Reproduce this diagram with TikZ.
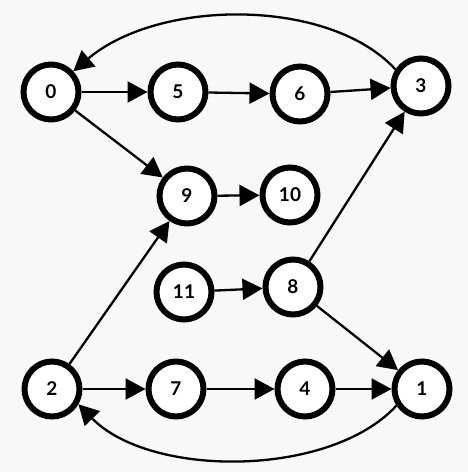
\documentclass[tikz,border=0pt]{standalone}
\usepackage{fontspec}
\setmainfont{Lato}
\usetikzlibrary{arrows.meta}
\definecolor{bg}{RGB}{248,248,248}
\begin{document}
\begin{tikzpicture}[x=1pt,y=-1pt,
  vert/.style={circle,draw=black,fill=white,line width=6pt,minimum size=55pt,inner sep=0pt,
    font=\fontsize{19}{19}\selectfont\bfseries},
  edge/.style={line width=2.3pt,-{Triangle[length=20pt,width=21pt]}}]
\fill[bg] (0,0) rectangle (468,472);
\useasboundingbox (0,0) rectangle (468,472);
\node[vert] (n0) at (51,92) {0};
\node[vert] (n5) at (178,92) {5};
\node[vert] (n6) at (300,94) {6};
\node[vert] (n3) at (421,86) {3};
\node[vert] (n9) at (187,196) {9};
\node[vert] (n10) at (290,195) {10};
\node[vert] (n11) at (184,292) {11};
\node[vert] (n8) at (293,287) {8};
\node[vert] (n2) at (52,389) {2};
\node[vert] (n7) at (176,389) {7};
\node[vert] (n4) at (305,389) {4};
\node[vert] (n1) at (422,389) {1};
\draw[edge] (n0) -- (n5);
\draw[edge] (n5) -- (n6);
\draw[edge] (n6) -- (n3);
\draw[edge] (n0) -- (n9);
\draw[edge] (n9) -- (n10);
\draw[edge] (n2) -- (n9);
\draw[edge] (n8) -- (n3);
\draw[edge] (n11) -- (n8);
\draw[edge] (n8) -- (n1);
\draw[edge] (n2) -- (n7);
\draw[edge] (n7) -- (n4);
\draw[edge] (n4) -- (n1);
\draw[edge] (n3.147) .. controls (330,-2) and (160,-2) .. (n0.43);
\draw[edge] (n1.213) .. controls (330,478) and (150,478) .. (n2.-30);
\end{tikzpicture}
\end{document}
